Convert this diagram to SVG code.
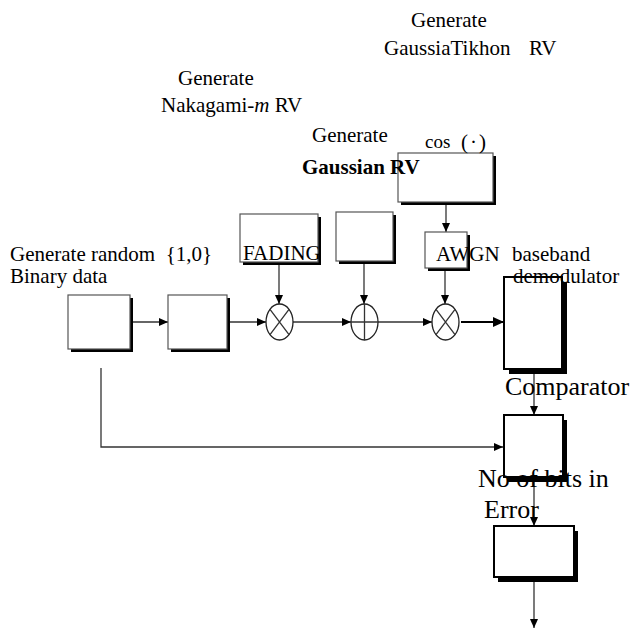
<svg xmlns="http://www.w3.org/2000/svg" width="633" height="631" viewBox="0 0 633 631">
<defs>
<marker id="ah" markerUnits="userSpaceOnUse" markerWidth="9" markerHeight="8" refX="9" refY="4" viewBox="0 0 9 8" orient="auto"><path d="M0,0 L9,4 L0,8 z" fill="#000"/></marker>
<marker id="ahb" markerUnits="userSpaceOnUse" markerWidth="11" markerHeight="10" refX="11" refY="5" viewBox="0 0 11 10" orient="auto"><path d="M0,0 L11,5 L0,10 z" fill="#000"/></marker>
</defs>
<style>
text{font-family:"Liberation Serif","Times New Roman",serif;fill:#000;font-size:21px}
.big{font-size:26px}
.sm{font-size:19px}
.box{fill:#fff;stroke:#555;stroke-width:1.2}
.boxk{fill:#fff;stroke:#000;stroke-width:2}
.sh{fill:#000}
.ln{stroke:#333;stroke-width:1.3;fill:none}
.op{fill:#fff;stroke:#222;stroke-width:1.3}
</style>
<rect width="633" height="631" fill="#fff"/>

<g id="connectors">
<path class="ln" d="M131,322 H168" marker-end="url(#ah)"/>
<path class="ln" d="M230,322 H266" marker-end="url(#ah)"/>
<path class="ln" d="M293,322 H351" marker-end="url(#ah)"/>
<path class="ln" d="M378,322 H432" marker-end="url(#ah)"/>
<path d="M461,322 H504" stroke="#000" stroke-width="2.2" fill="none" marker-end="url(#ahb)"/>
<path class="ln" d="M279,265 V304" marker-end="url(#ah)"/>
<path class="ln" d="M364,264 V304" marker-end="url(#ah)"/>
<path class="ln" d="M446,205 V232" marker-end="url(#ah)"/>
<path class="ln" d="M445,270 V304" marker-end="url(#ah)"/>
<path class="ln" d="M101,368 V447 H503" marker-end="url(#ah)"/>
<path class="ln" d="M534,374 V415" marker-end="url(#ah)"/>
<path class="ln" d="M534,482 V526" marker-end="url(#ah)"/>
<path class="ln" d="M534,582 V628" marker-end="url(#ah)"/>
</g>

<g id="binary-source">
<rect class="sh" x="71" y="298" width="62" height="54"/>
<rect class="box" x="68" y="295" width="62" height="54"/>
<text x="10" y="261" xml:space="preserve">Generate random  {1,0}</text>
<text x="10" y="283">Binary data</text>
</g>

<g id="modulator">
<rect class="sh" x="171" y="298" width="59" height="54"/>
<rect class="box" x="168" y="295" width="59" height="54"/>
</g>

<g id="fading">
<rect class="sh" x="243" y="217" width="78" height="48"/>
<rect class="box" x="240" y="214" width="78" height="48"/>
</g>

<g id="gaussian">
<rect class="sh" x="339" y="215" width="57" height="49"/>
<rect class="box" x="336" y="212" width="57" height="49"/>
</g>

<g id="cos">
<rect class="sh" x="401" y="156" width="95" height="49"/>
<rect class="box" x="398" y="153" width="95" height="49"/>
<text class="sm" x="425" y="148">cos</text>
<text x="461" y="149" letter-spacing="2">(·)</text>
</g>

<g id="awgn">
<rect class="sh" x="428" y="235" width="42" height="36"/>
<rect class="box" x="425" y="232" width="42" height="36"/>
</g>

<g id="mult1">
<ellipse class="op" cx="279.5" cy="322" rx="13.5" ry="18"/>
<path class="ln" d="M270,309.3 L289,334.7 M289,309.3 L270,334.7"/>
</g>

<g id="adder">
<ellipse class="op" cx="364.5" cy="322" rx="13.5" ry="18"/>
<path class="ln" d="M364.5,304 V340 M351,322 H378"/>
</g>

<g id="mult2">
<ellipse class="op" cx="445.5" cy="322" rx="13.5" ry="18"/>
<path class="ln" d="M436,309.3 L455,334.7 M455,309.3 L436,334.7"/>
</g>

<g id="demodulator">
<rect class="sh" x="509" y="282" width="58" height="92"/>
<rect class="boxk" x="504" y="277" width="58" height="92"/>
</g>

<g id="comparator">
<rect class="sh" x="508" y="420" width="59" height="62"/>
<rect class="boxk" x="504" y="415" width="59" height="62"/>
</g>

<g id="error-counter">
<rect class="sh" x="498" y="531" width="80" height="51"/>
<rect class="boxk" x="494" y="526" width="80" height="51"/>
</g>

<g id="labels">
<text x="411" y="27">Generate</text>
<text x="384" y="55">GaussiaTikhon</text>
<text x="529" y="55">RV</text>
<text x="178" y="85">Generate</text>
<text x="161" y="112">Nakagami-<tspan font-style="italic">m</tspan> RV</text>
<text x="312" y="142">Generate</text>
<text x="302" y="174" font-weight="bold">Gaussian RV</text>
<text x="243" y="260">FADING</text>
<text x="436" y="261">AWGN</text>
<text x="512" y="261">baseband</text>
<text x="513" y="283">demodulator</text>
<text class="big" x="505" y="395">Comparator</text>
<text class="big" x="478" y="487">No of bits in</text>
<text class="big" x="484" y="518">Error</text>
</g>
</svg>
